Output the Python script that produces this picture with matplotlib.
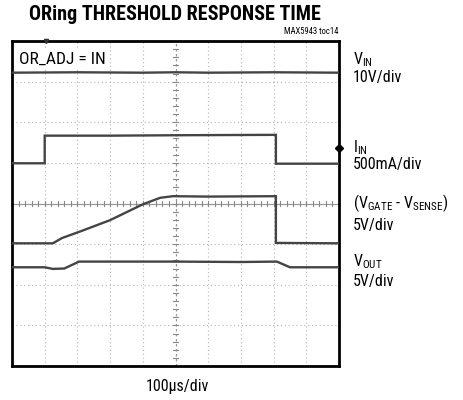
import matplotlib
matplotlib.use("Agg")
import matplotlib.pyplot as plt
import numpy as np

# ---- data (divisions: x 0..10, y 0..8) ----
vin_t = [0, 2, 4, 5, 6, 8, 10]
vin_v = [7.22, 7.23, 7.22, 7.23, 7.22, 7.23, 7.22]

iin_t = [0, 1.0, 1.0, 3.0, 5.0, 8.07, 8.07, 10]
iin_v = [4.99, 4.99, 5.67, 5.67, 5.68, 5.69, 4.98, 4.98]

gate_t = [0, 1.25, 1.53, 2.08, 3.0, 4.0, 4.53, 4.92, 6.0, 8.07, 8.07, 10]
gate_v = [3.02, 3.02, 3.15, 3.31, 3.59, 3.98, 4.14, 4.18, 4.17, 4.18, 3.03, 3.02]

vout_t = [0, 1.0, 1.25, 1.6, 2.05, 3.0, 5.0, 7.0, 8.1, 8.5, 10]
vout_v = [2.43, 2.43, 2.39, 2.40, 2.57, 2.57, 2.57, 2.56, 2.57, 2.43, 2.43]

label_names = [r"V$_{\rm IN}$", r"I$_{\rm IN}$", r"(V$_{\rm GATE}$ - V$_{\rm SENSE}$)", r"V$_{\rm OUT}$"]
label_scales = ["10V/div", "500mA/div", "5V/div", "5V/div"]
label_name_y = [7.53, 5.37, 4.01, 2.58]
label_scale_y = [7.09, 4.97, 3.47, 2.09]

FONT = 'Roboto Condensed'
plt.rcParams['font.family'] = [FONT, 'DejaVu Sans']
plt.rcParams['mathtext.fontset'] = 'custom'
plt.rcParams['mathtext.rm'] = FONT
plt.rcParams['mathtext.it'] = FONT

fig = plt.figure(figsize=(4.64, 4.0), dpi=100)
ax = fig.add_axes([12/464, 1-366/400, 327/464, 325/400])
ax.set_xlim(0, 10)
ax.set_ylim(0, 8)
ax.set_xticks([]); ax.set_yticks([])
for s in ax.spines.values():
    s.set_linewidth(2)
    s.set_color('black')

grid_c = '#b5b5b5'
for x in range(1, 10):
    if x != 5:
        ax.axvline(x, color=grid_c, lw=0.8, ls=(0, (1, 2.5)), zorder=1)
for y in range(1, 8):
    if y != 4:
        ax.axhline(y, color=grid_c, lw=0.8, ls=(0, (1, 2.5)), zorder=1)
# center axes with minor ticks
ax.axvline(5, color='#999999', lw=0.9, ls=(0, (2, 2)), zorder=1)
ax.axhline(4, color='#999999', lw=0.9, zorder=1)
for xm in np.arange(0, 10.01, 0.2):
    ax.plot([xm, xm], [3.95, 4.05], color='#888888', lw=0.8, zorder=1)
for ym in np.arange(0, 8.01, 0.2):
    ax.plot([4.93, 5.07], [ym, ym], color='#888888', lw=0.8, zorder=1)

tc = '#444444'
for t, v in [(vin_t, vin_v), (iin_t, iin_v), (gate_t, gate_v), (vout_t, vout_v)]:
    ax.plot(t, v, color=tc, lw=1.7, zorder=3, solid_joinstyle='miter')

# markers
ax.plot([10], [5.37], marker='D', color='black', ms=4, clip_on=False, zorder=5)
ax.plot([1.05], [8], marker='v', color='#333333', ms=3, clip_on=False, zorder=5)

ax.text(0.22, 7.55, "OR_ADJ = IN", fontsize=12.5, va='center', ha='left',
        bbox=dict(facecolor='white', edgecolor='none', pad=1.5), zorder=6)

# right labels
for name, scale, yn, ys in zip(label_names, label_scales, label_name_y, label_scale_y):
    ax.text(10.42, yn, name, fontsize=11.5, va='center', ha='left', clip_on=False)
    ax.text(10.42, ys, scale, fontsize=11.5, va='center', ha='left', clip_on=False)

fig.text(175/464, 1-14/400, "ORing THRESHOLD RESPONSE TIME", fontsize=14.5, fontweight='black',
         ha='center', va='center')
fig.text(338/464, 1-32/400, "MAX5943 toc14", fontsize=6.2, ha='right', va='center')
fig.text(177/464, 1-387/400, "100\u03bcs/div", fontsize=11.5, ha='center', va='center')

fig.savefig("out.png", dpi=100)
